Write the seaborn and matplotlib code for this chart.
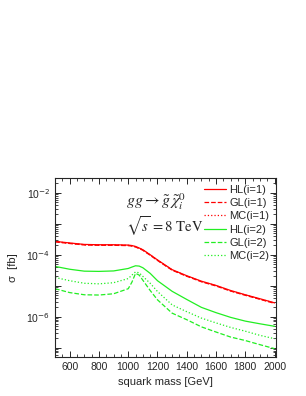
import numpy as np
import pandas as pd
import matplotlib
matplotlib.use("Agg")
import matplotlib.pyplot as plt
import matplotlib.ticker as mticker
import seaborn as sns

# squark mass [GeV]
mass = [500, 600, 700, 800, 900, 1000, 1025, 1050, 1075, 1100, 1150, 1200, 1300,
        1400, 1500, 1600, 1700, 1800, 1900, 2000]

# cross sections [fb]
hl1 = [2.7e-4, 2.4e-4, 2.15e-4, 2.1e-4, 2.1e-4, 2.05e-4, 1.98e-4, 1.85e-4, 1.65e-4, 1.45e-4,
       1.0e-4, 6.8e-5, 3.3e-5, 2.1e-5, 1.4e-5, 1.02e-5, 7.0e-6, 5.1e-6, 3.8e-6, 2.8e-6]
gl1 = [v * 0.96 for v in hl1]
mc1 = [v * 0.98 for v in hl1]
hl2 = [4.2e-5, 3.4e-5, 2.95e-5, 2.9e-5, 3.0e-5, 3.6e-5, 4.0e-5, 4.4e-5, 4.3e-5, 3.8e-5,
       2.5e-5, 1.45e-5, 6.6e-6, 3.6e-6, 2.0e-6, 1.35e-6, 9.5e-7, 7.2e-7, 5.9e-7, 4.9e-7]
gl2 = [8.0e-6, 6.0e-6, 5.1e-6, 5.0e-6, 5.5e-6, 8.0e-6, 1.3e-5, 2.5e-5, 2.2e-5, 1.5e-5,
       7.0e-6, 3.5e-6, 1.3e-6, 8.0e-7, 4.7e-7, 3.2e-7, 2.2e-7, 1.7e-7, 1.25e-7, 9.3e-8]
mc2 = [1.85e-5, 1.45e-5, 1.2e-5, 1.15e-5, 1.25e-5, 1.7e-5, 2.2e-5, 2.8e-5, 2.6e-5, 2.0e-5,
       1.2e-5, 6.5e-6, 2.4e-6, 1.45e-6, 9.0e-7, 6.3e-7, 4.5e-7, 3.4e-7, 2.5e-7, 1.95e-7]

series = [("HL(i=1)", hl1, "#ff0000", "-"), ("GL(i=1)", gl1, "#ff0000", "--"),
          ("MC(i=1)", mc1, "#ff0000", ":"), ("HL(i=2)", hl2, "#22ee22", "-"),
          ("GL(i=2)", gl2, "#22ee22", "--"), ("MC(i=2)", mc2, "#22ee22", ":")]

sns.set_style("ticks")
plt.rcParams["font.family"] = ["Liberation Sans", "DejaVu Sans"]
plt.rcParams["mathtext.fontset"] = "dejavusans"

fig = plt.figure(figsize=(3.06, 3.96), dpi=100)
ax = fig.add_axes([0.18, 0.0985, 0.722, 0.452])

for name, vals, col, ls in series:
    df = pd.DataFrame({"mass": mass, "sigma": vals})
    sns.lineplot(data=df, x="mass", y="sigma", ax=ax, color=col, linestyle=ls,
                 linewidth=0.9, label=name)

ax.set_yscale("log")
ax.set_xlim(500, 2010)
ax.set_ylim(5e-8, 3e-2)

ax.xaxis.set_major_locator(mticker.MultipleLocator(200))
ax.xaxis.set_minor_locator(mticker.MultipleLocator(50))
ax.yaxis.set_major_locator(mticker.LogLocator(base=10, numticks=20))
ax.yaxis.set_minor_locator(mticker.LogLocator(base=10, subs=np.arange(2, 10), numticks=20))


def fmt(v, pos):
    e = int(round(np.log10(v)))
    if e % 2 == 0:
        return r"10$^{%d}$" % e
    return ""


ax.yaxis.set_major_formatter(mticker.FuncFormatter(fmt))
ax.yaxis.set_minor_formatter(mticker.NullFormatter())
ax.tick_params(which="both", direction="in", top=True, right=True, labelsize=7.5)
ax.tick_params(which="major", length=4.5, width=0.7)
ax.tick_params(which="minor", length=2.2, width=0.6)
for s in ax.spines.values():
    s.set_linewidth(0.8)

ax.set_xlabel("squark mass [GeV]", fontsize=8)
ax.set_ylabel("σ  [fb]", fontsize=8, labelpad=6)

ax.text(0.32, 0.87, r"$gg \rightarrow \tilde{g}\,\tilde{\chi}_i^0$", transform=ax.transAxes,
        fontsize=11.5, va="center", ha="left", math_fontfamily="stix")
ax.text(0.32, 0.73, r"$\sqrt{s}\,=8\ \mathrm{TeV}$", transform=ax.transAxes,
        fontsize=10.5, va="center", ha="left", math_fontfamily="stix")

ax.legend(loc="upper right", frameon=False, fontsize=8, handlelength=2.0,
          labelspacing=0.3, handletextpad=0.3, borderaxespad=0.2)

fig.savefig("out.png", dpi=100)
